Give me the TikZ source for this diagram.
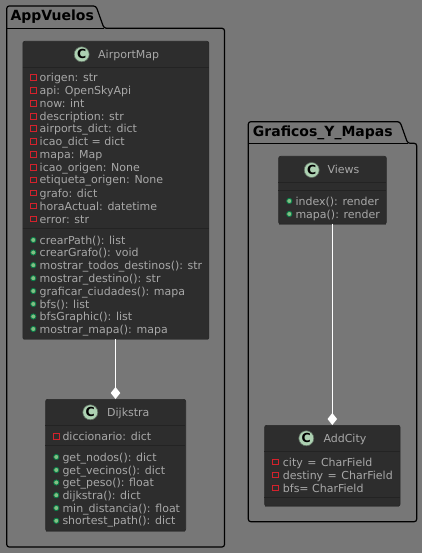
\documentclass[tikz,border=0pt]{standalone}
\usepackage{fontspec}
\setmainfont{DejaVu Sans}
\usetikzlibrary{arrows.meta,calc}
\definecolor{bgc}{HTML}{777777}
\definecolor{boxc}{HTML}{2D2D2D}
\definecolor{linec}{HTML}{282828}
\definecolor{sepc}{HTML}{232323}
\definecolor{edgec}{HTML}{4A4A4A}
\definecolor{txtc}{HTML}{A8A8A8}
\definecolor{circc}{HTML}{ADD1B2}
\definecolor{privc}{HTML}{D3222C}
\definecolor{pubf}{HTML}{84BE84}
\definecolor{pubd}{HTML}{038048}
\tikzset{
  pkg/.style={draw=black,line width=1.2pt,rounded corners=2.5pt},
  pkgtitle/.style={anchor=base west,inner sep=0pt,text=black,font=\fontsize{14}{14}\selectfont\bfseries},
  classbox/.style={draw=linec,fill=boxc,line width=.7pt,rounded corners=2pt,inner sep=0pt,anchor=north west},
  sep/.style={draw=sepc,line width=.8pt},
  lowedge/.style={draw=edgec,line width=.8pt},
  member/.style={anchor=base west,inner sep=0pt,text=txtc,font=\fontsize{11}{11}\selectfont},
  title/.style={anchor=base west,inner sep=0pt,text=txtc,font=\fontsize{11}{11}\selectfont},
  cicon/.style={circle,draw=linec!60!circc,fill=circc,line width=.6pt,minimum size=15pt,inner sep=0pt,text=black,font=\fontsize{12.5}{12.5}\selectfont\bfseries},
  priv/.style={draw=privc,line width=.9pt,fill=none,minimum size=5.8pt,inner sep=0pt},
  pub/.style={circle,draw=pubd,fill=pubf,line width=.8pt,minimum size=5.2pt,inner sep=0pt},
  assoc/.style={draw=white,line width=1pt,-{Diamond[fill=white,length=12pt,width=9.5pt]}}
}
% \mem{icon style}{name}{icon x}{text x}{y centre}{text}
\newcommand{\mem}[6]{%
  \node[#1] (i#2) at (#3,#5) {};
  \node[member] (t#2) at (#4,#5+4) {#6};
}
\begin{document}
\begin{tikzpicture}[x=1pt,y=-1pt]
\useasboundingbox (0,0) rectangle (422,553);
\fill[bgc] (0,0) rectangle (422,553);

% package AppVuelos
\draw[pkg] (6.7,28.3) -- (6.7,6) -- (96,6) -- (104,28.3) -- (224.5,28.3) -- (224.5,547) -- (6.7,547) -- cycle;
\draw[draw=black,line width=1.2pt] (6.7,28.3) -- (104,28.3);
\node[pkgtitle] (pkgA) at (10.3,21) {AppVuelos};

% package Graficos
\draw[pkg] (248.3,143.3) -- (248.3,121.7) -- (400,121.7) -- (407.7,143.3) -- (416.7,143.3) -- (416.7,521.7) -- (248.3,521.7) -- cycle;
\draw[draw=black,line width=1.2pt] (248.3,143.3) -- (407.7,143.3);
\node[pkgtitle] (pkgB) at (252.7,136.5) {Graficos\_Y\_Mapas};

% AirportMap
\node[classbox,minimum width=186pt,minimum height=298pt] (airport) at (22.5,41) {};
\draw[lowedge] ([xshift=1pt]airport.south west) -- ([xshift=-1pt]airport.south east);
\draw[sep] (22.5,67.3) -- (208.5,67.3);
\draw[sep] (22.5,228.7) -- (208.5,228.7);
\node[cicon] (cA) at (81.7,54.3) {C};
\node[title] (nA) at (98,58.2) {AirportMap};
\mem{priv}{a1}{33.3}{39.5}{77.3}{origen: str}
\mem{priv}{a2}{33.3}{39.5}{90.3}{api: OpenSkyApi}
\mem{priv}{a3}{33.3}{39.5}{103.3}{now: int}
\mem{priv}{a4}{33.3}{39.5}{116.2}{description: str}
\mem{priv}{a5}{33.3}{39.5}{128.5}{airports\_dict: dict}
\mem{priv}{a6}{33.3}{39.5}{141.5}{icao\_dict = dict}
\mem{priv}{a7}{33.3}{39.5}{154.5}{mapa: Map}
\mem{priv}{a8}{33.3}{39.5}{167.5}{icao\_origen: None}
\mem{priv}{a9}{33.3}{39.5}{180}{etiqueta\_origen: None}
\mem{priv}{a10}{33.3}{39.5}{193}{grafo: dict}
\mem{priv}{a11}{33.3}{39.5}{206}{horaActual: datetime}
\mem{priv}{a12}{33.3}{39.5}{219}{error: str}
\mem{pub}{a13}{33.3}{39.5}{240}{crearPath(): list}
\mem{pub}{a14}{33.3}{39.5}{252.5}{crearGrafo(): void}
\mem{pub}{a15}{33.3}{39.5}{265.2}{mostrar\_todos\_destinos(): str}
\mem{pub}{a16}{33.3}{39.5}{278.2}{mostrar\_destino(): str}
\mem{pub}{a17}{33.3}{39.5}{291}{graficar\_ciudades(): mapa}
\mem{pub}{a18}{33.3}{39.5}{304}{bfs(): list}
\mem{pub}{a19}{33.3}{39.5}{316.5}{bfsGraphic(): list}
\mem{pub}{a20}{33.3}{39.5}{329}{mostrar\_mapa(): mapa}

% Dijkstra
\node[classbox,minimum width=140pt,minimum height=131.7pt] (dij) at (45.3,399) {};
\draw[lowedge] ([xshift=1pt]dij.south west) -- ([xshift=-1pt]dij.south east);
\draw[sep] (45.3,425.3) -- (185.3,425.3);
\draw[sep] (45.3,445.3) -- (185.3,445.3);
\node[cicon] (cD) at (90.3,412.3) {C};
\node[title] (nD) at (107,416.2) {Dijkstra};
\mem{priv}{d1}{56.3}{62.3}{436.3}{diccionario: dict}
\mem{pub}{d2}{56.3}{62.3}{457}{get\_nodos(): dict}
\mem{pub}{d3}{56.3}{62.3}{470}{get\_vecinos(): dict}
\mem{pub}{d4}{56.3}{62.3}{482.5}{get\_peso(): float}
\mem{pub}{d5}{56.3}{62.3}{495.2}{dijkstra(): dict}
\mem{pub}{d6}{56.3}{62.3}{508}{min\_distancia(): float}
\mem{pub}{d7}{56.3}{62.3}{520.8}{shortest\_path(): dict}

% Views
\node[classbox,minimum width=107.7pt,minimum height=67.7pt] (views) at (278.3,156) {};
\draw[lowedge] ([xshift=1pt]views.south west) -- ([xshift=-1pt]views.south east);
\draw[sep] (278.3,182.3) -- (386,182.3);
\draw[sep] (278.3,190.3) -- (386,190.3);
\node[cicon] (cV) at (311.7,170) {C};
\node[title] (nV) at (327.3,173.8) {Views};
\mem{pub}{v1}{289.3}{295.3}{201}{index(): render}
\mem{pub}{v2}{289.3}{295.3}{214}{mapa(): render}

% AddCity
\node[classbox,minimum width=135.4pt,minimum height=80.7pt] (add) at (264.3,425) {};
\draw[lowedge] ([xshift=1pt]add.south west) -- ([xshift=-1pt]add.south east);
\draw[sep] (264.3,451.7) -- (399.7,451.7);
\draw[sep] (264.3,497.7) -- (399.7,497.7);
\node[cicon] (cC) at (306.3,438.3) {C};
\node[title] (nC) at (323.3,442.2) {AddCity};
\mem{priv}{c1}{275.3}{282.7}{462}{city\hspace{1pt} = \hspace{1pt}CharField}
\mem{priv}{c2}{275.3}{282.7}{475}{destiny\hspace{1pt} = \hspace{1pt}CharField}
\mem{priv}{c3}{275.3}{282.7}{488}{bfs= CharField}

% connectors
\coordinate (aout) at (115.5,339);
\coordinate (vout) at (332.3,223.7);
\draw[assoc] (aout) -- (aout |- dij.north);
\draw[assoc] (vout) -- (vout |- add.north);
\end{tikzpicture}
\end{document}
